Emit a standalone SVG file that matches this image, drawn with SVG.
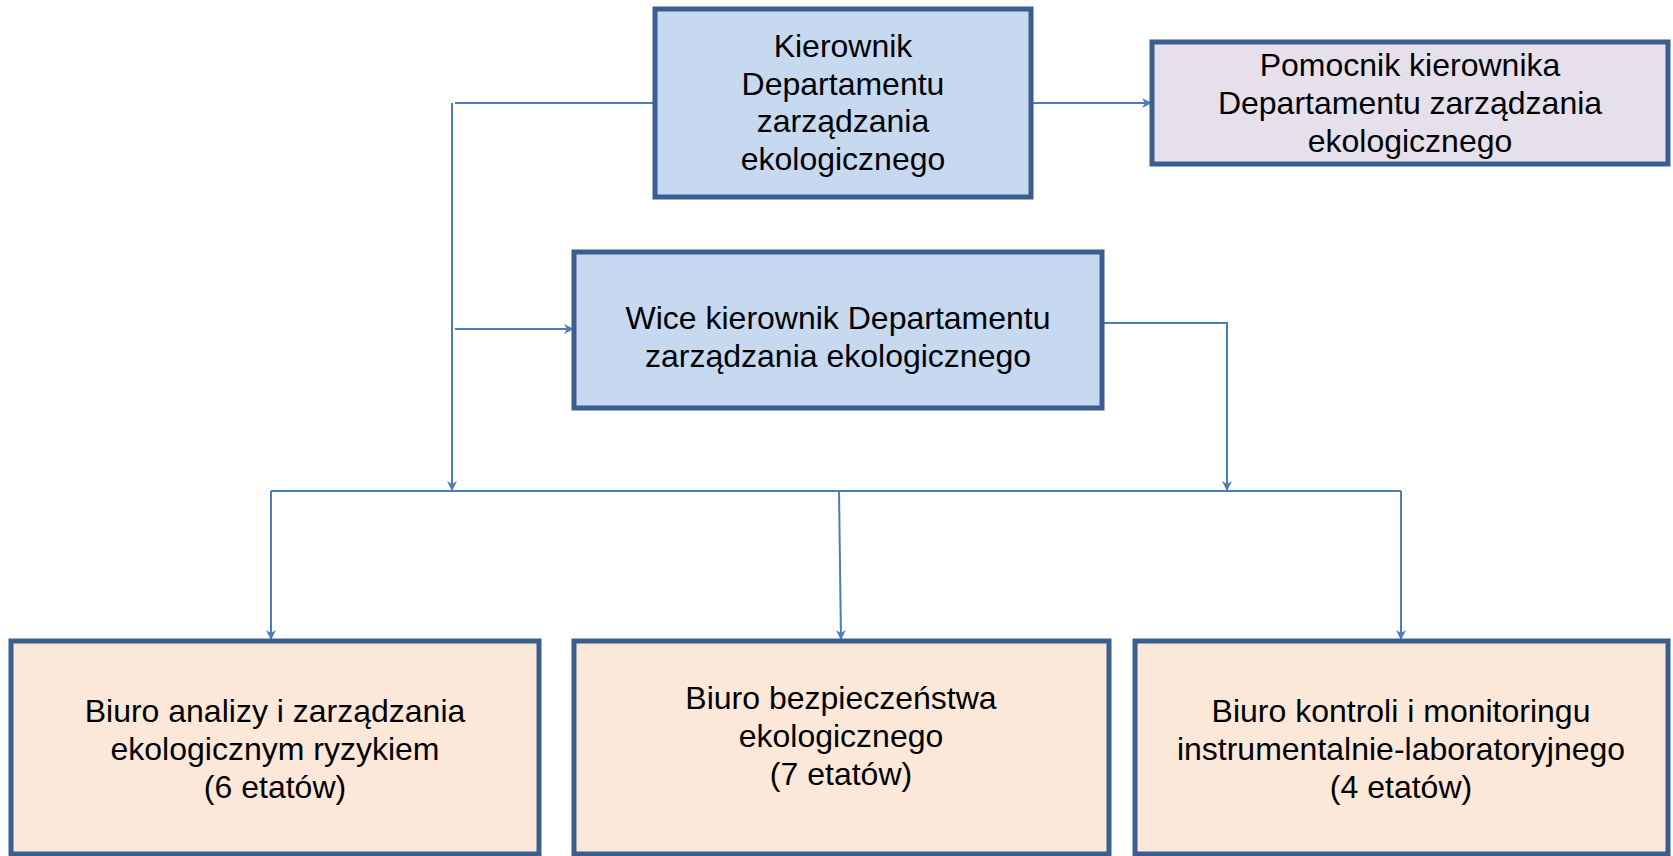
<svg xmlns="http://www.w3.org/2000/svg" width="1673" height="856" viewBox="0 0 1673 856">
<defs>
<style>
.box{stroke:#3A5F8E;stroke-width:5}
.blue{fill:#C6D9F1}
.lav{fill:#E5E0EC}
.peach{fill:#FCE8D8}
.t{font-family:"Liberation Sans",Arial,sans-serif;font-size:32px;fill:#000;text-anchor:middle}
.c{fill:none;stroke:#4A7EBB;stroke-width:2}
</style>
<marker id="arr" viewBox="0 0 10 10" refX="10" refY="5" markerWidth="10" markerHeight="10" markerUnits="userSpaceOnUse" orient="auto">
<path d="M0,0 L10,5 L0,10 L3,5 z" fill="#4A7EBB"/>
</marker>
</defs>
<rect width="1673" height="856" fill="#fff"/>
<g id="connectors">
<path class="c" d="M655,103 H455"/>
<path class="c" d="M452,103 V491" marker-end="url(#arr)"/>
<path class="c" d="M455,329 H574" marker-end="url(#arr)"/>
<path class="c" d="M1031,103 H1152" marker-end="url(#arr)"/>
<path class="c" d="M1102,323 H1227 V491" marker-end="url(#arr)"/>
<path class="c" d="M271,491 H1401"/>
<path class="c" d="M271,491 V640" marker-end="url(#arr)"/>
<path class="c" d="M839,491 L841,640" marker-end="url(#arr)"/>
<path class="c" d="M1401,491 V640" marker-end="url(#arr)"/>
</g>
<g id="kierownik">
<rect class="box blue" x="655" y="9" width="376" height="188"/>
<text class="t" x="843" y="57">Kierownik</text>
<text class="t" x="843" y="95">Departamentu</text>
<text class="t" x="843" y="132">zarządzania</text>
<text class="t" x="843" y="170">ekologicznego</text>
</g>
<g id="pomocnik">
<rect class="box lav" x="1152" y="42" width="516" height="122"/>
<text class="t" x="1410" y="76">Pomocnik kierownika</text>
<text class="t" x="1410" y="114">Departamentu zarządzania</text>
<text class="t" x="1410" y="152">ekologicznego</text>
</g>
<g id="wice">
<rect class="box blue" x="574" y="252" width="528" height="156"/>
<text class="t" x="838" y="329">Wice kierownik Departamentu</text>
<text class="t" x="838" y="367">zarządzania ekologicznego</text>
</g>
<g id="biuro-analizy">
<rect class="box peach" x="11" y="641" width="528" height="213"/>
<text class="t" x="275" y="722">Biuro analizy i zarządzania</text>
<text class="t" x="275" y="760">ekologicznym ryzykiem</text>
<text class="t" x="275" y="798">(6 etatów)</text>
</g>
<g id="biuro-bezpieczenstwa">
<rect class="box peach" x="574" y="641" width="535" height="213"/>
<text class="t" x="841" y="709">Biuro bezpieczeństwa</text>
<text class="t" x="841" y="747">ekologicznego</text>
<text class="t" x="841" y="785">(7 etatów)</text>
</g>
<g id="biuro-kontroli">
<rect class="box peach" x="1135" y="641" width="533" height="213"/>
<text class="t" x="1401" y="722">Biuro kontroli i monitoringu</text>
<text class="t" x="1401" y="760">instrumentalnie-laboratoryjnego</text>
<text class="t" x="1401" y="798">(4 etatów)</text>
</g>
</svg>
